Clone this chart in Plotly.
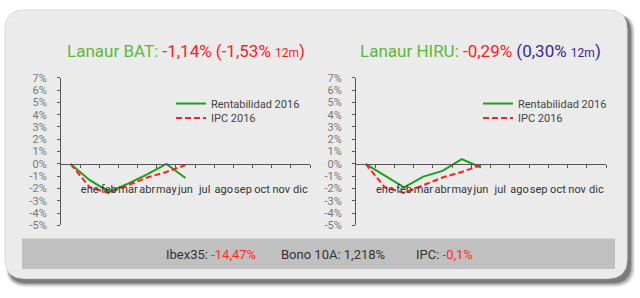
import plotly.graph_objects as go

W, H = 640, 298
def X(px): return px / W
def Y(py): return 1 - py / H

meses = ["ene", "feb", "mar", "abr", "may", "jun", "jul", "ago", "sep", "oct", "nov", "dic"]
bat_rent = [0, -1.32, -2.25, -1.6, -0.85, 0.0, -1.14]
hiru_rent = [0, -0.98, -1.9, -1.03, -0.57, 0.39, -0.29]
ipc = [0, -1.9, -2.35, -1.7, -1.1, -0.65, -0.1]
yticks = [7, 6, 5, 4, 3, 2, 1, 0, -1, -2, -3, -4, -5]

FONT = "Roboto, Liberation Sans, sans-serif"
GREEN = "#1e9e1e"
RED = "#ff2020"

fig = go.Figure()

for i, rent in enumerate([bat_rent, hiru_rent]):
    xa = "x" if i == 0 else "x2"
    ya = "y" if i == 0 else "y2"
    fig.add_trace(go.Scatter(x=list(range(len(rent))), y=rent, mode="lines", name="Rentabilidad 2016",
                             line=dict(color=GREEN, width=2), xaxis=xa, yaxis=ya,
                             legend="legend" if i == 0 else "legend3"))
    fig.add_trace(go.Scatter(x=list(range(len(ipc))), y=ipc, mode="lines", name="IPC 2016",
                             line=dict(color=RED, width=2, dash="6px,3px"), xaxis=xa, yaxis=ya,
                             legend="legend2" if i == 0 else "legend4"))

ymin, ymax = -5, 7
y_top, y_bot = 75, 229.5
ydom = [Y(y_bot), Y(y_top)]
zero_pos = Y(165)

def xaxis_cfg(x0, x1):
    return dict(domain=[X(x0), X(x1)], range=[-0.5, 12.5], anchor="free", position=zero_pos,
                showline=True, linecolor="#555", linewidth=1, showgrid=False, zeroline=False,
                tickmode="array", tickvals=list(range(1, 13)), ticktext=meses, ticks="",
                tickangle=0, ticklabelstandoff=15,
                tickfont=dict(family=FONT, size=11, color="#333"),
                minor=dict(tickmode="array", tickvals=[k + 0.5 for k in range(13)], ticks="outside",
                           ticklen=3, tickcolor="#555", tickwidth=1, showgrid=False))

def yaxis_cfg(anchor):
    return dict(domain=ydom, range=[ymin, ymax], anchor=anchor, showline=True, linecolor="#555",
                linewidth=1, showgrid=False, zeroline=False, tickmode="array", tickvals=yticks,
                ticktext=[f"{v}%" for v in yticks], ticks="outside", ticklen=3, tickcolor="#555",
                ticklabelstandoff=8,
                tickfont=dict(family=FONT, size=11, color="#777"))

def rrect(x0, y0, x1, y1, r):
    return (f"M {X(x0 + r)},{Y(y0)} L {X(x1 - r)},{Y(y0)} Q {X(x1)},{Y(y0)} {X(x1)},{Y(y0 + r)} "
            f"L {X(x1)},{Y(y1 - r)} Q {X(x1)},{Y(y1)} {X(x1 - r)},{Y(y1)} "
            f"L {X(x0 + r)},{Y(y1)} Q {X(x0)},{Y(y1)} {X(x0)},{Y(y1 - r)} "
            f"L {X(x0)},{Y(y0 + r)} Q {X(x0)},{Y(y0)} {X(x0 + r)},{Y(y0)} Z")

shapes = []
for k, op in enumerate([0.08, 0.10, 0.14, 0.2, 0.3]):
    g = 4 - k
    shapes.append(dict(type="path", xref="paper", yref="paper", layer="below",
                       path=rrect(5 + 3 - g * 0.5, 4 + 4, 627 + 4 + g, 285 + 5 + g, 20),
                       fillcolor=f"rgba(40,40,40,{op})", line=dict(width=0)))
shapes.append(dict(type="path", xref="paper", yref="paper", layer="below",
                   path=rrect(5, 4, 627, 285, 20), fillcolor="#ebebeb",
                   line=dict(color="#dcdcdc", width=1)))
shapes.append(dict(type="rect", xref="paper", yref="paper", layer="below",
                   x0=X(22), x1=X(615), y0=Y(275), y1=Y(243), fillcolor="#c0c0c0", line=dict(width=0)))

ann = []
ann.append(dict(xref="paper", yref="paper", x=X(186), y=Y(47), showarrow=False,
                xanchor="center", yanchor="middle",
                font=dict(family=FONT, size=17, color=RED),
                text="<span style='color:#5cb83a'>Lanaur BAT:</span> -1,14% (-1,53% <span style='font-size:12px'>12m</span>)"))
ann.append(dict(xref="paper", yref="paper", x=X(480), y=Y(47), showarrow=False,
                xanchor="center", yanchor="middle",
                font=dict(family=FONT, size=17, color=RED),
                text="<span style='color:#5cb83a'>Lanaur HIRU:</span> -0,29% <span style='color:#3b2a8c'>(0,30% <span style='font-size:12px'>12m</span>)</span>"))
for cx, txt in [(211, "Ibex35: <span style='color:#ff2a2a'>-14,47%</span>"),
                (333, "Bono 10A: 1,218%"),
                (444.5, "IPC: <span style='color:#ff2a2a'>-0,1%</span>")]:
    ann.append(dict(xref="paper", yref="paper", x=X(cx), y=Y(260), showarrow=False,
                    xanchor="center", yanchor="middle",
                    font=dict(family=FONT, size=13, color="#333"), text=txt))

lc = dict(bgcolor="rgba(0,0,0,0)", font=dict(family=FONT, size=11, color="#444"),
          xanchor="left", yanchor="middle", itemwidth=30)

fig.update_layout(
    width=W, height=H, margin=dict(l=0, r=0, t=0, b=0), autosize=False,
    paper_bgcolor="white", plot_bgcolor="rgba(0,0,0,0)",
    xaxis=xaxis_cfg(61, 310), yaxis=yaxis_cfg("x"),
    xaxis2=xaxis_cfg(356, 606), yaxis2=yaxis_cfg("x2"),
    shapes=shapes, annotations=ann,
    legend=dict(x=X(171), y=Y(102), **lc),
    legend2=dict(x=X(171), y=Y(117), **lc),
    legend3=dict(x=X(478), y=Y(102), **lc),
    legend4=dict(x=X(478), y=Y(117), **lc),
    showlegend=True,
)

fig.write_html("out.html")
